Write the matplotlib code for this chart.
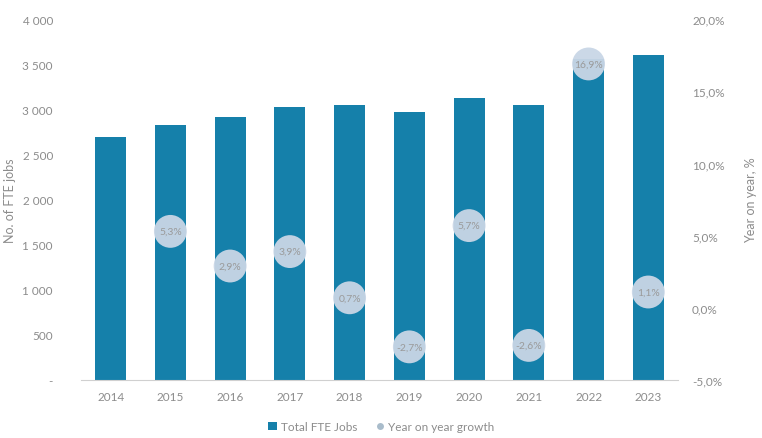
"""Total FTE jobs with year-on-year growth bubbles."""

import matplotlib

matplotlib.use("Agg")
import matplotlib.pyplot as plt
from matplotlib.lines import Line2D
from matplotlib.patches import Patch
from matplotlib.ticker import FuncFormatter

years = ["2014", "2015", "2016", "2017", "2018", "2019", "2020", "2021", "2022", "2023"]
fte_jobs = [2695, 2830, 2915, 3025, 3045, 2975, 3130, 3045, 3560, 3605]
yoy_growth = [None, 5.3, 2.9, 3.9, 0.7, -2.7, 5.7, -2.6, 16.9, 1.1]

BAR = "#1580aa"
BUBBLE = "#c9d6e6"
GREY = "#8c8c8c"

plt.rcParams["font.family"] = ["Lato", "DejaVu Sans"]

fig = plt.figure(figsize=(7.62, 4.39), dpi=100)
ax = fig.add_axes([0.106, 0.132, 0.784, 0.822])
x = list(range(len(years)))
ax.bar(x, fte_jobs, width=0.52, color=BAR, zorder=2)
ax.set_xlim(-0.5, len(years) - 0.5)
ax.set_ylim(0, 4000)
ax.set_yticks(range(0, 4001, 500))
ax.yaxis.set_major_formatter(FuncFormatter(
    lambda v, _: "-" if v == 0 else f"{int(v):,}".replace(",", " ")))
ax.set_xticks(x)
ax.set_xticklabels(years)
ax.set_ylabel("No. of FTE jobs", color=GREY, fontsize=9)
ax.yaxis.set_label_coords(-0.108, 0.5)
for s in ["top", "right", "left"]:
    ax.spines[s].set_visible(False)
ax.spines["bottom"].set_color("#d0d0d0")
ax.tick_params(axis="both", colors=GREY, labelsize=8.5, length=0)
ax.tick_params(axis="x", pad=8)
ax.tick_params(axis="y", pad=20)

ax2 = ax.twinx()
ax2.set_ylim(-5, 20)
ax2.set_yticks(range(-5, 21, 5))
ax2.yaxis.set_major_formatter(FuncFormatter(lambda v, _: f"{v:.1f}%".replace(".", ",")))
for s in ax2.spines.values():
    s.set_visible(False)
ax2.tick_params(axis="y", colors=GREY, labelsize=8.5, length=0, pad=10)
ax2.set_ylabel("Year on year, %", color=GREY, fontsize=9)
ax2.yaxis.set_label_coords(1.112, 0.5)

gx = [i for i, g in zip(x, yoy_growth) if g is not None]
gy = [g for g in yoy_growth if g is not None]
ax2.scatter(gx, gy, s=560, color=BUBBLE, alpha=0.95, zorder=3, edgecolors="none")
for i, g in zip(gx, gy):
    ax2.text(i, g, f"{g:.1f}%".replace(".", ","), ha="center", va="center",
             fontsize=7.5, color="#9a9a9a", zorder=4)

handles = [
    Patch(facecolor=BAR, label="Total FTE Jobs"),
    Line2D([], [], marker="o", linestyle="none", markersize=5,
           markerfacecolor="#a9bccb", markeredgecolor="none", label="Year on year growth"),
]
fig.legend(handles=handles, loc="lower center", ncol=2, frameon=False,
           fontsize=8.5, labelcolor=GREY, bbox_to_anchor=(0.5, -0.01),
           handlelength=0.8, handletextpad=0.3, columnspacing=1.5)

fig.savefig("out.png", dpi=100)
